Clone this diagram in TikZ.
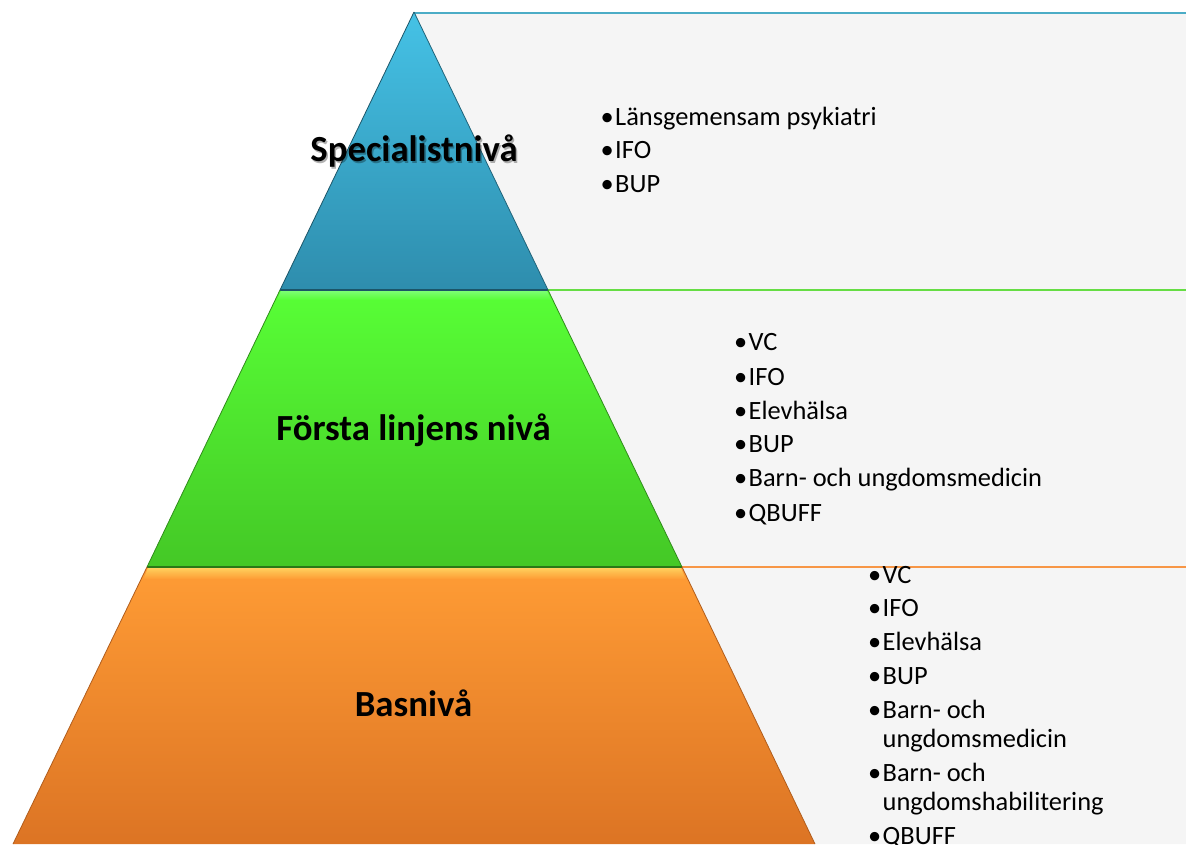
\documentclass[tikz,border=0pt]{standalone}
\usepackage{fontspec}
\setmainfont{Carlito}
\definecolor{panelgrey}{HTML}{F5F5F5}
\definecolor{tealline}{HTML}{4BACC6}
\definecolor{greenline}{HTML}{66DD44}
\definecolor{orangeline}{HTML}{F79646}
\definecolor{blueTop}{HTML}{45C2E6}
\definecolor{blueBot}{HTML}{2E8DAD}
\definecolor{greenTop}{HTML}{58FF36}
\definecolor{greenBot}{HTML}{44C826}
\definecolor{orangeTop}{HTML}{FF9C35}
\definecolor{orangeBot}{HTML}{DC7424}
\tikzset{
  panel/.style={fill=panelgrey, draw=none},
  itemtext/.style={anchor=base west, inner sep=0pt, font=\fontsize{26.4}{31}\selectfont},
  bul/.style={anchor=base east, inner sep=0pt, font=\fontsize{26.4}{31}\selectfont},
  levellabel/.style={anchor=base, inner sep=0pt, font=\fontsize{36.8}{44}\selectfont\bfseries},
  edge/.style={line width=0.8pt}
}
\begin{document}
\begin{tikzpicture}[x=1pt,y=-1pt]
\useasboundingbox (0,0) rectangle (1186,844);
\clip (0,0) rectangle (1186,844);
% key points
\coordinate (apex) at (414,12);
\coordinate (l1) at (280,290);
\coordinate (r1) at (548,290);
\coordinate (l2) at (147,567);
\coordinate (r2) at (682,567);
\coordinate (l3) at (13,844);
\coordinate (r3) at (815,844);
\coordinate (e1) at (1186,13);
\coordinate (e2) at (1186,290);
\coordinate (e3) at (1186,567);
\coordinate (e4) at (1186,844);
\coordinate (a1) at (414,13);
% panels
\fill[panel] (a1) -- (e1) -- (e2) -- (r1) -- cycle;
\fill[panel] (r1) -- (e2) -- (e3) -- (r2) -- cycle;
\fill[panel] (r2) -- (e3) -- (e4) -- (r3) -- cycle;
\draw[tealline, line width=2pt] (a1) -- (e1);
\draw[greenline, line width=1.6pt] (r1) -- (e2);
\draw[orangeline, line width=1.6pt] (r2) -- (e3);
% pyramid levels
\shade[top color=blueTop, bottom color=blueBot] (apex) -- (r1) -- (l1) -- cycle;
\shade[top color=greenTop, bottom color=greenBot] (l1) -- (r1) -- (r2) -- (l2) -- cycle;
\shade[top color=orangeTop, bottom color=orangeBot] (l2) -- (r2) -- (r3) -- (l3) -- cycle;
% bevel highlights
\shade[top color=green!45!white, bottom color=greenTop, opacity=0.7] (281,291) -- (547,291) -- (551,300) -- (277,300) -- cycle;
\shade[top color=yellow!55!orange!60!white, bottom color=orangeTop, opacity=0.8] (148,568) -- (681,568) -- (685.5,579) -- (143.5,579) -- cycle;
% edges
\draw[edge, blueBot!70!black] (apex) -- (r1);
\draw[edge, blueBot!60!black] (apex) -- (l1);
\draw[edge, blueBot!60!black, line width=1.2pt] (l1) -- (r1);
\draw[edge, greenBot!70!black] (r1) -- (r2);
\draw[edge, greenBot!70!black] (l1) -- (l2);
\draw[edge, greenBot!60!black, line width=1.2pt] (l2) -- (r2);
\draw[edge, orangeBot!80!black] (r2) -- (r3);
\draw[edge, orangeBot!80!black] (l2) -- (l3);
% level labels
\node[levellabel, text=black, opacity=0.3] (specshadow) at (415.5,163.5) {Specialistnivå};
\node[levellabel] (spec) at (414,161) {Specialistnivå};
\node[levellabel] (forsta) at (413.5,440) {Första linjens nivå};
\node[levellabel] (bas) at (413.5,716) {Basnivå};
% top list
\foreach \y/\t [count=\i] in {125/Länsgemensam psykiatri,158.5/IFO,192/BUP}{
  \node[bul] (tb\i) at (614,\y) {•};
  \node[itemtext] (ti\i) at (615,\y) {\t};
}
% middle list
\foreach \y/\t [count=\i] in {350.7/VC,385/IFO,419/Elevhälsa,452.7/BUP,486.7/Barn- och ungdomsmedicin,521/QBUFF}{
  \node[bul] (mb\i) at (747.5,\y) {•};
  \node[itemtext] (mi\i) at (748.5,\y) {\t};
}
% bottom list
\foreach \y/\t [count=\i] in {583.3/VC,616.7/IFO,650.7/Elevhälsa,684/BUP,718.3/Barn- och,781.7/Barn- och,844/QBUFF}{
  \node[bul] (bb\i) at (881.5,\y) {•};
  \node[itemtext] (bi\i) at (882.5,\y) {\t};
}
\node[itemtext] (bc1) at (882.5,747.3) {ungdomsmedicin};
\node[itemtext] (bc2) at (882.5,810) {ungdomshabilitering};
\end{tikzpicture}
\end{document}
